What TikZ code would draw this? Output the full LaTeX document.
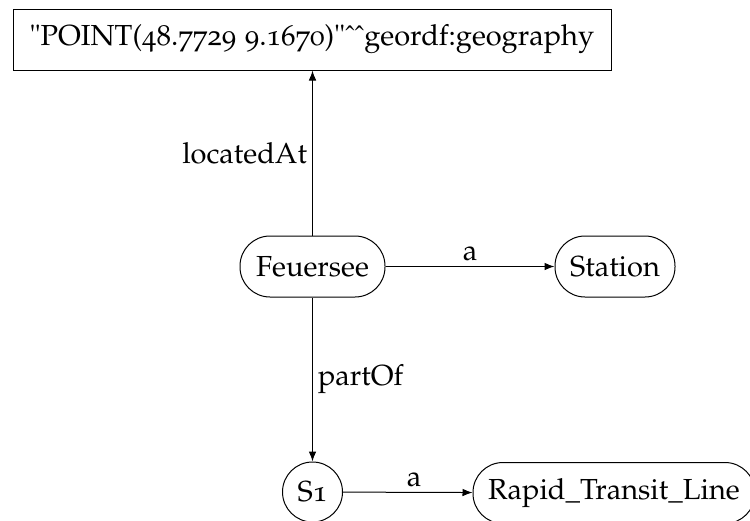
\documentclass[tikz,border=0pt]{standalone}
\usepackage[T1]{fontenc}
\usepackage[osf]{mathpazo}
\usetikzlibrary{arrows.meta}

\tikzset{
  every node/.style={font=\fontsize{14.5}{17}\selectfont},
  termbox/.style={draw, line width=0.5pt, rectangle, minimum height=30.5pt, inner sep=0pt},
  resnode/.style={draw, line width=0.5pt, rectangle, rounded corners=15pt, minimum height=30.5pt, inner sep=0pt},
  blanknode/.style={draw, line width=0.5pt, circle, minimum size=30pt, inner sep=0pt},
  rel/.style={line width=0.5pt, -{Latex[length=5pt,width=3.8pt]}},
  rellabel/.style={inner sep=2.5pt}
}

\begin{document}
\begin{tikzpicture}[x=0.5pt, y=-0.5pt]
  \useasboundingbox (0,0) rectangle (750,520);

  % literal value
  \node[termbox, minimum width=299pt] (geo) at (312,39.5)
    {"POINT(48.7729 9.1670)"\^{}\^{}geordf:geography};

  % resources
  \node[resnode, minimum width=72.5pt] (fe) at (312.5,266.5) {Feuersee};
  \node[resnode, minimum width=60pt] (st) at (615,266.5) {Station};
  \node[blanknode] (s1) at (312.5,492) {S1};
  \node[resnode, minimum width=141pt] (rtl) at (614,493) {Rapid\_Transit\_Line};

  % relations
  \draw[rel] (fe) -- node[rellabel, left] {locatedAt} (geo.south -| fe.north);
  \draw[rel] (fe) -- node[rellabel, above] {a} (st);
  \draw[rel] (fe) -- node[rellabel, right] {partOf} (s1);
  \draw[rel] (s1) -- node[rellabel, above, pos=0.55] {a} (rtl);
\end{tikzpicture}
\end{document}
